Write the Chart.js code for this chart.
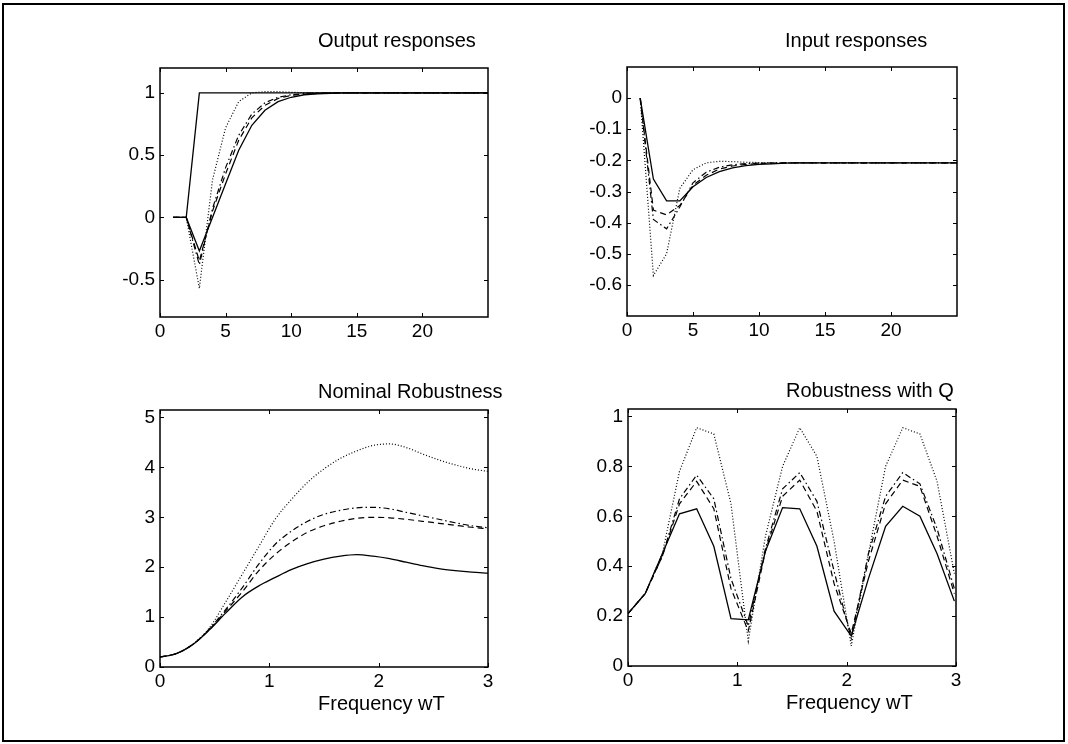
<!DOCTYPE html>
<html>
<head>
<meta charset="utf-8">
<script src="https://cdn.jsdelivr.net/npm/chart.js@4.4.0/dist/chart.umd.min.js"></script>
<style>
  body { margin: 0; background: #fff; width: 1068px; height: 744px; overflow: hidden; position: relative; }
  #frame { position: absolute; left: 2px; top: 3px; width: 1059px; height: 735px; border: 2px solid #000; }
  canvas { position: absolute; }
</style>
</head>
<body>
<div id="frame"></div>
<canvas id="outputPlot"></canvas>
<canvas id="inputPlot"></canvas>
<canvas id="nominalPlot"></canvas>
<canvas id="robustPlot"></canvas>
<script>
// ---- step responses (sample index 1..25) ----
const steps = [1,2,3,4,5,6,7,8,9,10,11,12,13,14,15,16,17,18,19,20,21,22,23,24,25];

const outputReference = [0,0,1,1,1,1,1,1,1,1,1,1,1,1,1,1,1,1,1,1,1,1,1,1,1];
const outputSolid   = [0,0,-0.27,0.0,0.27,0.54,0.74,0.86,0.93,0.965,0.985,0.993,0.997,1,1,1,1,1,1,1,1,1,1,1,1];
const outputDashed  = [0,0,-0.35,0.05,0.35,0.62,0.8,0.9,0.955,0.98,0.99,0.996,0.999,1,1,1,1,1,1,1,1,1,1,1,1];
const outputDashDot = [0,0,-0.38,0.07,0.4,0.66,0.83,0.92,0.965,0.985,0.995,0.999,1,1,1,1,1,1,1,1,1,1,1,1,1];
const outputDotted  = [0,0,-0.57,0.3,0.72,0.93,1.0,1.01,1.01,1.005,1.002,1,1,1,1,1,1,1,1,1,1,1,1,1,1];

const inputSolid   = [0,-0.26,-0.33,-0.33,-0.285,-0.255,-0.236,-0.224,-0.217,-0.213,-0.211,-0.209,-0.208,-0.208,-0.208,-0.208,-0.208,-0.208,-0.208,-0.208,-0.208,-0.208,-0.208,-0.208,-0.208];
const inputDashed  = [0,-0.36,-0.375,-0.345,-0.28,-0.248,-0.228,-0.218,-0.213,-0.21,-0.209,-0.208,-0.208,-0.208,-0.208,-0.208,-0.208,-0.208,-0.208,-0.208,-0.208,-0.208,-0.208,-0.208,-0.208];
const inputDashDot = [0,-0.39,-0.42,-0.35,-0.272,-0.238,-0.222,-0.214,-0.21,-0.209,-0.208,-0.208,-0.208,-0.208,-0.208,-0.208,-0.208,-0.208,-0.208,-0.208,-0.208,-0.208,-0.208,-0.208,-0.208];
const inputDotted  = [0,-0.57,-0.5,-0.29,-0.23,-0.208,-0.203,-0.204,-0.206,-0.207,-0.208,-0.208,-0.208,-0.208,-0.208,-0.208,-0.208,-0.208,-0.208,-0.208,-0.208,-0.208,-0.208,-0.208,-0.208];

// ---- nominal robustness over frequency wT ----
const freqNominal = [0,0.15,0.3,0.45,0.6,0.75,0.9,1.05,1.2,1.35,1.5,1.65,1.8,1.95,2.1,2.25,2.4,2.55,2.7,2.85,3.0];
const nominalSolid   = [0.2,0.27,0.45,0.74,1.08,1.4,1.62,1.79,1.95,2.07,2.16,2.22,2.25,2.22,2.17,2.1,2.03,1.97,1.93,1.9,1.88];
const nominalDashed  = [0.2,0.27,0.45,0.75,1.12,1.5,1.92,2.25,2.5,2.7,2.83,2.92,2.98,3.0,2.99,2.96,2.92,2.88,2.84,2.8,2.77];
const nominalDashDot = [0.2,0.27,0.45,0.76,1.15,1.58,2.05,2.45,2.72,2.92,3.06,3.14,3.19,3.2,3.17,3.1,3.03,2.96,2.89,2.83,2.79];
const nominalDotted  = [0.2,0.27,0.46,0.78,1.3,1.85,2.4,2.95,3.35,3.7,3.97,4.18,4.33,4.44,4.47,4.4,4.27,4.15,4.05,3.97,3.92];

// ---- robustness with Q ----
const freqQ = [0,0.157,0.314,0.471,0.628,0.785,0.942,1.1,1.257,1.414,1.571,1.728,1.885,2.042,2.199,2.356,2.513,2.67,2.827,2.985];
const qSolid   = [0.21,0.29,0.45,0.61,0.63,0.48,0.19,0.185,0.46,0.635,0.63,0.48,0.22,0.12,0.35,0.56,0.64,0.6,0.45,0.26];
const qDashed  = [0.21,0.29,0.44,0.65,0.74,0.63,0.31,0.14,0.46,0.68,0.745,0.62,0.33,0.13,0.42,0.65,0.745,0.72,0.52,0.29];
const qDashDot = [0.21,0.29,0.44,0.67,0.765,0.67,0.35,0.16,0.47,0.71,0.775,0.66,0.38,0.11,0.45,0.68,0.775,0.73,0.55,0.31];
const qDotted  = [0.21,0.29,0.45,0.78,0.955,0.93,0.65,0.10,0.52,0.80,0.955,0.84,0.5,0.08,0.45,0.8,0.955,0.93,0.74,0.37];

// tick labels
const stepTicks = [0,5,10,15,20];
const outputTicks = [-0.5,0,0.5,1];
const inputTicks = [-0.6,-0.5,-0.4,-0.3,-0.2,-0.1,0];
const freqTicks = [0,1,2,3];
const nominalTicks = [0,1,2,3,4,5];
const qTicks = [0,0.2,0.4,0.6,0.8,1];

const FONT = '"Liberation Sans", Arial, Helvetica, sans-serif';
Chart.defaults.font.family = FONT;
Chart.defaults.font.size = 19;
Chart.defaults.color = '#000';

const DASH = { solid: [], dashed: [6, 4], dashdot: [6, 3, 1.5, 3], dotted: [1, 2] };

// margins around each plot box inside its canvas
const PAD_L = 70, PAD_T = 68, PAD_R = 30, PAD_B = 60;

// frame, inward ticks and text for each subplot
const axesDecor = {
  id: 'axesDecor',
  afterDraw(chart, args, opts) {
    const { ctx, chartArea: a, scales } = chart;
    ctx.save();
    ctx.strokeStyle = '#000';
    ctx.lineWidth = 1.5;
    ctx.strokeRect(a.left, a.top, a.right - a.left, a.bottom - a.top);
    const len = 4;
    ctx.lineWidth = 1;
    ctx.beginPath();
    scales.x.ticks.forEach(t => {
      const px = Math.round(scales.x.getPixelForValue(t.value)) + 0.5;
      ctx.moveTo(px, a.bottom); ctx.lineTo(px, a.bottom - len);
      ctx.moveTo(px, a.top); ctx.lineTo(px, a.top + len);
    });
    scales.y.ticks.forEach(t => {
      const py = Math.round(scales.y.getPixelForValue(t.value)) + 0.5;
      ctx.moveTo(a.left, py); ctx.lineTo(a.left + len, py);
      ctx.moveTo(a.right, py); ctx.lineTo(a.right - len, py);
    });
    ctx.stroke();

    ctx.fillStyle = '#000';
    ctx.font = '20px ' + FONT;
    ctx.textAlign = 'left';
    ctx.textBaseline = 'alphabetic';
    ctx.fillText(opts.title, a.left + 158, a.top - opts.titleGap);
    if (opts.xlabel) ctx.fillText(opts.xlabel, a.left + 158, a.bottom + 43);
    ctx.restore();
  }
};

function line(xs, ys, style) {
  return {
    data: xs.map((x, i) => ({ x: x, y: ys[i] })),
    borderColor: '#000',
    borderWidth: style === 'solid' ? 1.3 : 1.2,
    borderDash: DASH[style],
    pointRadius: 0,
    fill: false
  };
}

function makePlot(id, box, cfg) {
  const canvas = document.getElementById(id);
  const w = box.right - box.left + PAD_L + PAD_R;
  const h = box.bottom - box.top + PAD_T + PAD_B;
  canvas.width = w; canvas.height = h;
  canvas.style.left = (box.left - PAD_L) + 'px';
  canvas.style.top = (box.top - PAD_T) + 'px';
  canvas.style.width = w + 'px'; canvas.style.height = h + 'px';

  return new Chart(canvas, {
    type: 'line',
    data: { datasets: cfg.datasets },
    options: {
      responsive: false,
      animation: false,
      devicePixelRatio: 1,
      layout: { padding: { left: 0, top: PAD_T, right: PAD_R, bottom: 0 } },
      elements: { line: { tension: cfg.smooth ? 0.4 : 0, cubicInterpolationMode: cfg.smooth ? 'monotone' : 'default' } },
      plugins: {
        legend: { display: false },
        tooltip: { enabled: false },
        axesDecor: { title: cfg.title, xlabel: cfg.xlabel, titleGap: cfg.titleGap }
      },
      scales: {
        x: {
          type: 'linear', min: cfg.xMin, max: cfg.xMax,
          grid: { display: false, drawTicks: false },
          border: { display: false },
          afterBuildTicks: s => { s.ticks = cfg.xTicks.map(v => ({ value: v })); },
          afterFit: s => { s.height = PAD_B; },
          ticks: { padding: 3, maxRotation: 0, callback: v => String(v) }
        },
        y: {
          type: 'linear', min: cfg.yMin, max: cfg.yMax,
          grid: { display: false, drawTicks: false },
          border: { display: false },
          afterBuildTicks: s => { s.ticks = cfg.yTicks.map(v => ({ value: v })); },
          afterFit: s => { s.width = PAD_L; },
          ticks: { padding: 5, callback: v => String(v) }
        }
      }
    },
    plugins: [axesDecor]
  });
}

makePlot('outputPlot', { left: 160, top: 68, right: 488, bottom: 317 }, {
  title: 'Output responses', titleGap: 21,
  xMin: 0, xMax: 25, yMin: -0.8, yMax: 1.2, xTicks: stepTicks, yTicks: outputTicks,
  datasets: [
    line(steps, outputReference, 'solid'),
    line(steps, outputSolid, 'solid'),
    line(steps, outputDashed, 'dashed'),
    line(steps, outputDashDot, 'dashdot'),
    line(steps, outputDotted, 'dotted')
  ]
});

makePlot('inputPlot', { left: 627, top: 67, right: 957, bottom: 316 }, {
  title: 'Input responses', titleGap: 20,
  xMin: 0, xMax: 25, yMin: -0.7, yMax: 0.1, xTicks: stepTicks, yTicks: inputTicks,
  datasets: [
    line(steps, inputSolid, 'solid'),
    line(steps, inputDashed, 'dashed'),
    line(steps, inputDashDot, 'dashdot'),
    line(steps, inputDotted, 'dotted')
  ]
});

makePlot('nominalPlot', { left: 160, top: 410, right: 488, bottom: 667 }, {
  title: 'Nominal Robustness', xlabel: 'Frequency wT', titleGap: 12, smooth: true,
  xMin: 0, xMax: 3, yMin: 0, yMax: 5.15, xTicks: freqTicks, yTicks: nominalTicks,
  datasets: [
    line(freqNominal, nominalSolid, 'solid'),
    line(freqNominal, nominalDashed, 'dashed'),
    line(freqNominal, nominalDashDot, 'dashdot'),
    line(freqNominal, nominalDotted, 'dotted')
  ]
});

makePlot('robustPlot', { left: 628, top: 409, right: 956, bottom: 666 }, {
  title: 'Robustness with Q', xlabel: 'Frequency wT', titleGap: 12,
  xMin: 0, xMax: 3, yMin: 0, yMax: 1.03, xTicks: freqTicks, yTicks: qTicks,
  datasets: [
    line(freqQ, qSolid, 'solid'),
    line(freqQ, qDashed, 'dashed'),
    line(freqQ, qDashDot, 'dashdot'),
    line(freqQ, qDotted, 'dotted')
  ]
});
</script>
</body>
</html>
